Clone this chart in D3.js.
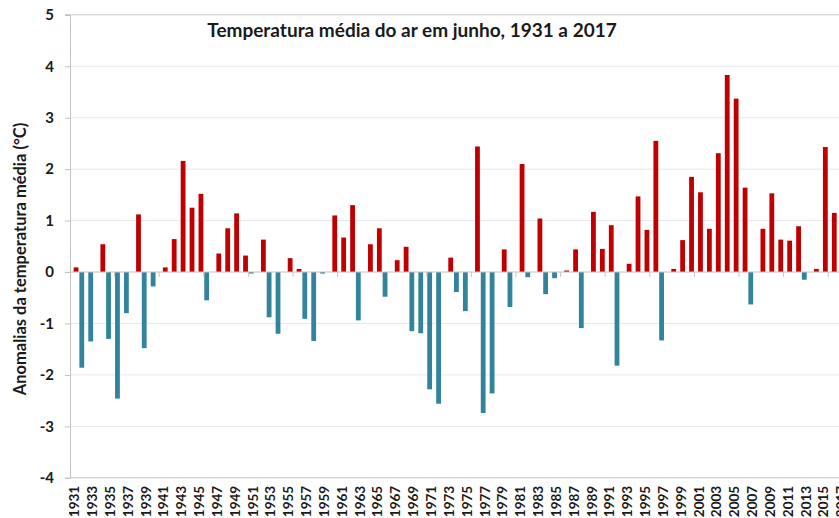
<!DOCTYPE html>
<html>
<head>
<meta charset="utf-8">
<script src="https://cdn.jsdelivr.net/npm/d3@7"></script>
<style>
  body { margin: 0; background: #fff; }
  text { font-family: Lato, "Open Sans", sans-serif; font-weight: bold; fill: #1a1a1a; }
</style>
</head>
<body>
<svg id="chart"></svg>
<script>
// June air temperature anomaly (°C), 1931-2017
const years = d3.range(1931, 2018);
const anomalies = [
  0.09, -1.86, -1.35, 0.54, -1.30, -2.46, -0.80, 1.12, -1.48, -0.28,
  0.09, 0.64, 2.16, 1.25, 1.52, -0.55, 0.36, 0.85, 1.14, 0.32,
  -0.03, 0.63, -0.88, -1.20, 0.27, 0.06, -0.91, -1.34, -0.03, 1.10,
  0.67, 1.30, -0.94, 0.54, 0.85, -0.48, 0.23, 0.49, -1.15, -1.19,
  -2.28, -2.56, 0.28, -0.39, -0.76, 2.44, -2.74, -2.36, 0.44, -0.68,
  2.10, -0.10, 1.04, -0.43, -0.12, 0.03, 0.44, -1.09, 1.17, 0.45,
  0.91, -1.82, 0.16, 1.47, 0.82, 2.55, -1.33, 0.06, 0.62, 1.85,
  1.55, 0.84, 2.31, 3.83, 3.37, 1.64, -0.63, 0.84, 1.53, 0.63,
  0.61, 0.89, -0.15, 0.06, 2.43, 1.15, 2.90
];
const yTicks = [-4, -3, -2, -1, 0, 1, 2, 3, 4, 5];
const xLabels = years.filter((d, i) => i % 2 === 0);

const title = 'Temperatura média do ar em junho, 1931 a 2017';
const yTitle = 'Anomalias da temperatura média (°C)';

const width = 839, height = 518;
const margin = { left: 70, top: 14.8, bottom: 477.8 };
const step = 8.92;

const data = years.map((yr, i) => ({ year: yr, value: anomalies[i] }));

const x = d3.scaleBand()
  .domain(years)
  .range([margin.left, margin.left + years.length * step]);

const y = d3.scaleLinear()
  .domain([-4, 5])
  .range([margin.bottom, margin.top]);

const svg = d3.select('#chart')
  .attr('width', width)
  .attr('height', height);

// gridlines
svg.append('g')
  .selectAll('line')
  .data(yTicks.filter(d => d !== 0 && d !== -4 && d !== 5))
  .join('line')
  .attr('x1', margin.left)
  .attr('x2', width)
  .attr('y1', d => y(d))
  .attr('y2', d => y(d))
  .attr('stroke', '#e3e9f3')
  .attr('stroke-width', 1);

// plot frame: top line, bottom line
svg.append('line')
  .attr('x1', margin.left - 5).attr('x2', width)
  .attr('y1', y(5)).attr('y2', y(5))
  .attr('stroke', '#c8c8c8');
svg.append('line')
  .attr('x1', margin.left).attr('x2', width)
  .attr('y1', y(-4)).attr('y2', y(-4))
  .attr('stroke', '#c0c0c0');

// bars: positive series red (shifted right), negative series teal (shifted left)
const barW = 4.8;
svg.append('g')
  .selectAll('rect')
  .data(data)
  .join('rect')
  .attr('x', d => x(d.year) + x.bandwidth() / 2 + (d.value >= 0 ? 1.6 : -1.6) - barW / 2)
  .attr('width', barW)
  .attr('y', d => y(Math.max(0, d.value)))
  .attr('height', d => Math.abs(y(d.value) - y(0)))
  .attr('fill', d => d.value >= 0 ? '#c00000' : '#31849b');

// zero line with small ticks every 5 categories
svg.append('line')
  .attr('x1', margin.left).attr('x2', width)
  .attr('y1', y(0)).attr('y2', y(0))
  .attr('stroke', '#c4c4c4');
svg.append('g')
  .selectAll('line')
  .data(years.filter((d, i) => i % 5 === 0 && i > 0))
  .join('line')
  .attr('x1', d => x(d)).attr('x2', d => x(d))
  .attr('y1', y(0)).attr('y2', y(0) + 5)
  .attr('stroke', '#c4c4c4');

// y axis
const yAxis = svg.append('g')
  .attr('transform', `translate(${margin.left},0)`)
  .call(d3.axisLeft(y).tickValues(yTicks).tickSize(5).tickFormat(d => String(d)));
yAxis.select('.domain').attr('stroke', '#c0c0c0');
yAxis.selectAll('.tick line').attr('stroke', '#c0c0c0');
yAxis.selectAll('.tick text')
  .attr('x', -16)
  .attr('font-size', 15)
  .attr('font-family', null)
  .style('fill', '#1a1a1a');

// x labels, rotated
svg.append('g')
  .selectAll('text')
  .data(xLabels)
  .join('text')
  .attr('transform', d => `translate(${x(d) + x.bandwidth() / 2},${margin.bottom + 8}) rotate(-90)`)
  .attr('text-anchor', 'end')
  .attr('dy', '0.35em')
  .attr('font-size', 13.5)
  .text(d => d);

// titles
svg.append('text')
  .attr('x', 412)
  .attr('y', 37)
  .attr('text-anchor', 'middle')
  .attr('font-size', 19)
  .text(title);

svg.append('text')
  .attr('transform', `translate(20,259) rotate(-90)`)
  .attr('text-anchor', 'middle')
  .attr('dy', '0.35em')
  .attr('font-size', 16.5)
  .text(yTitle);
</script>
</body>
</html>
